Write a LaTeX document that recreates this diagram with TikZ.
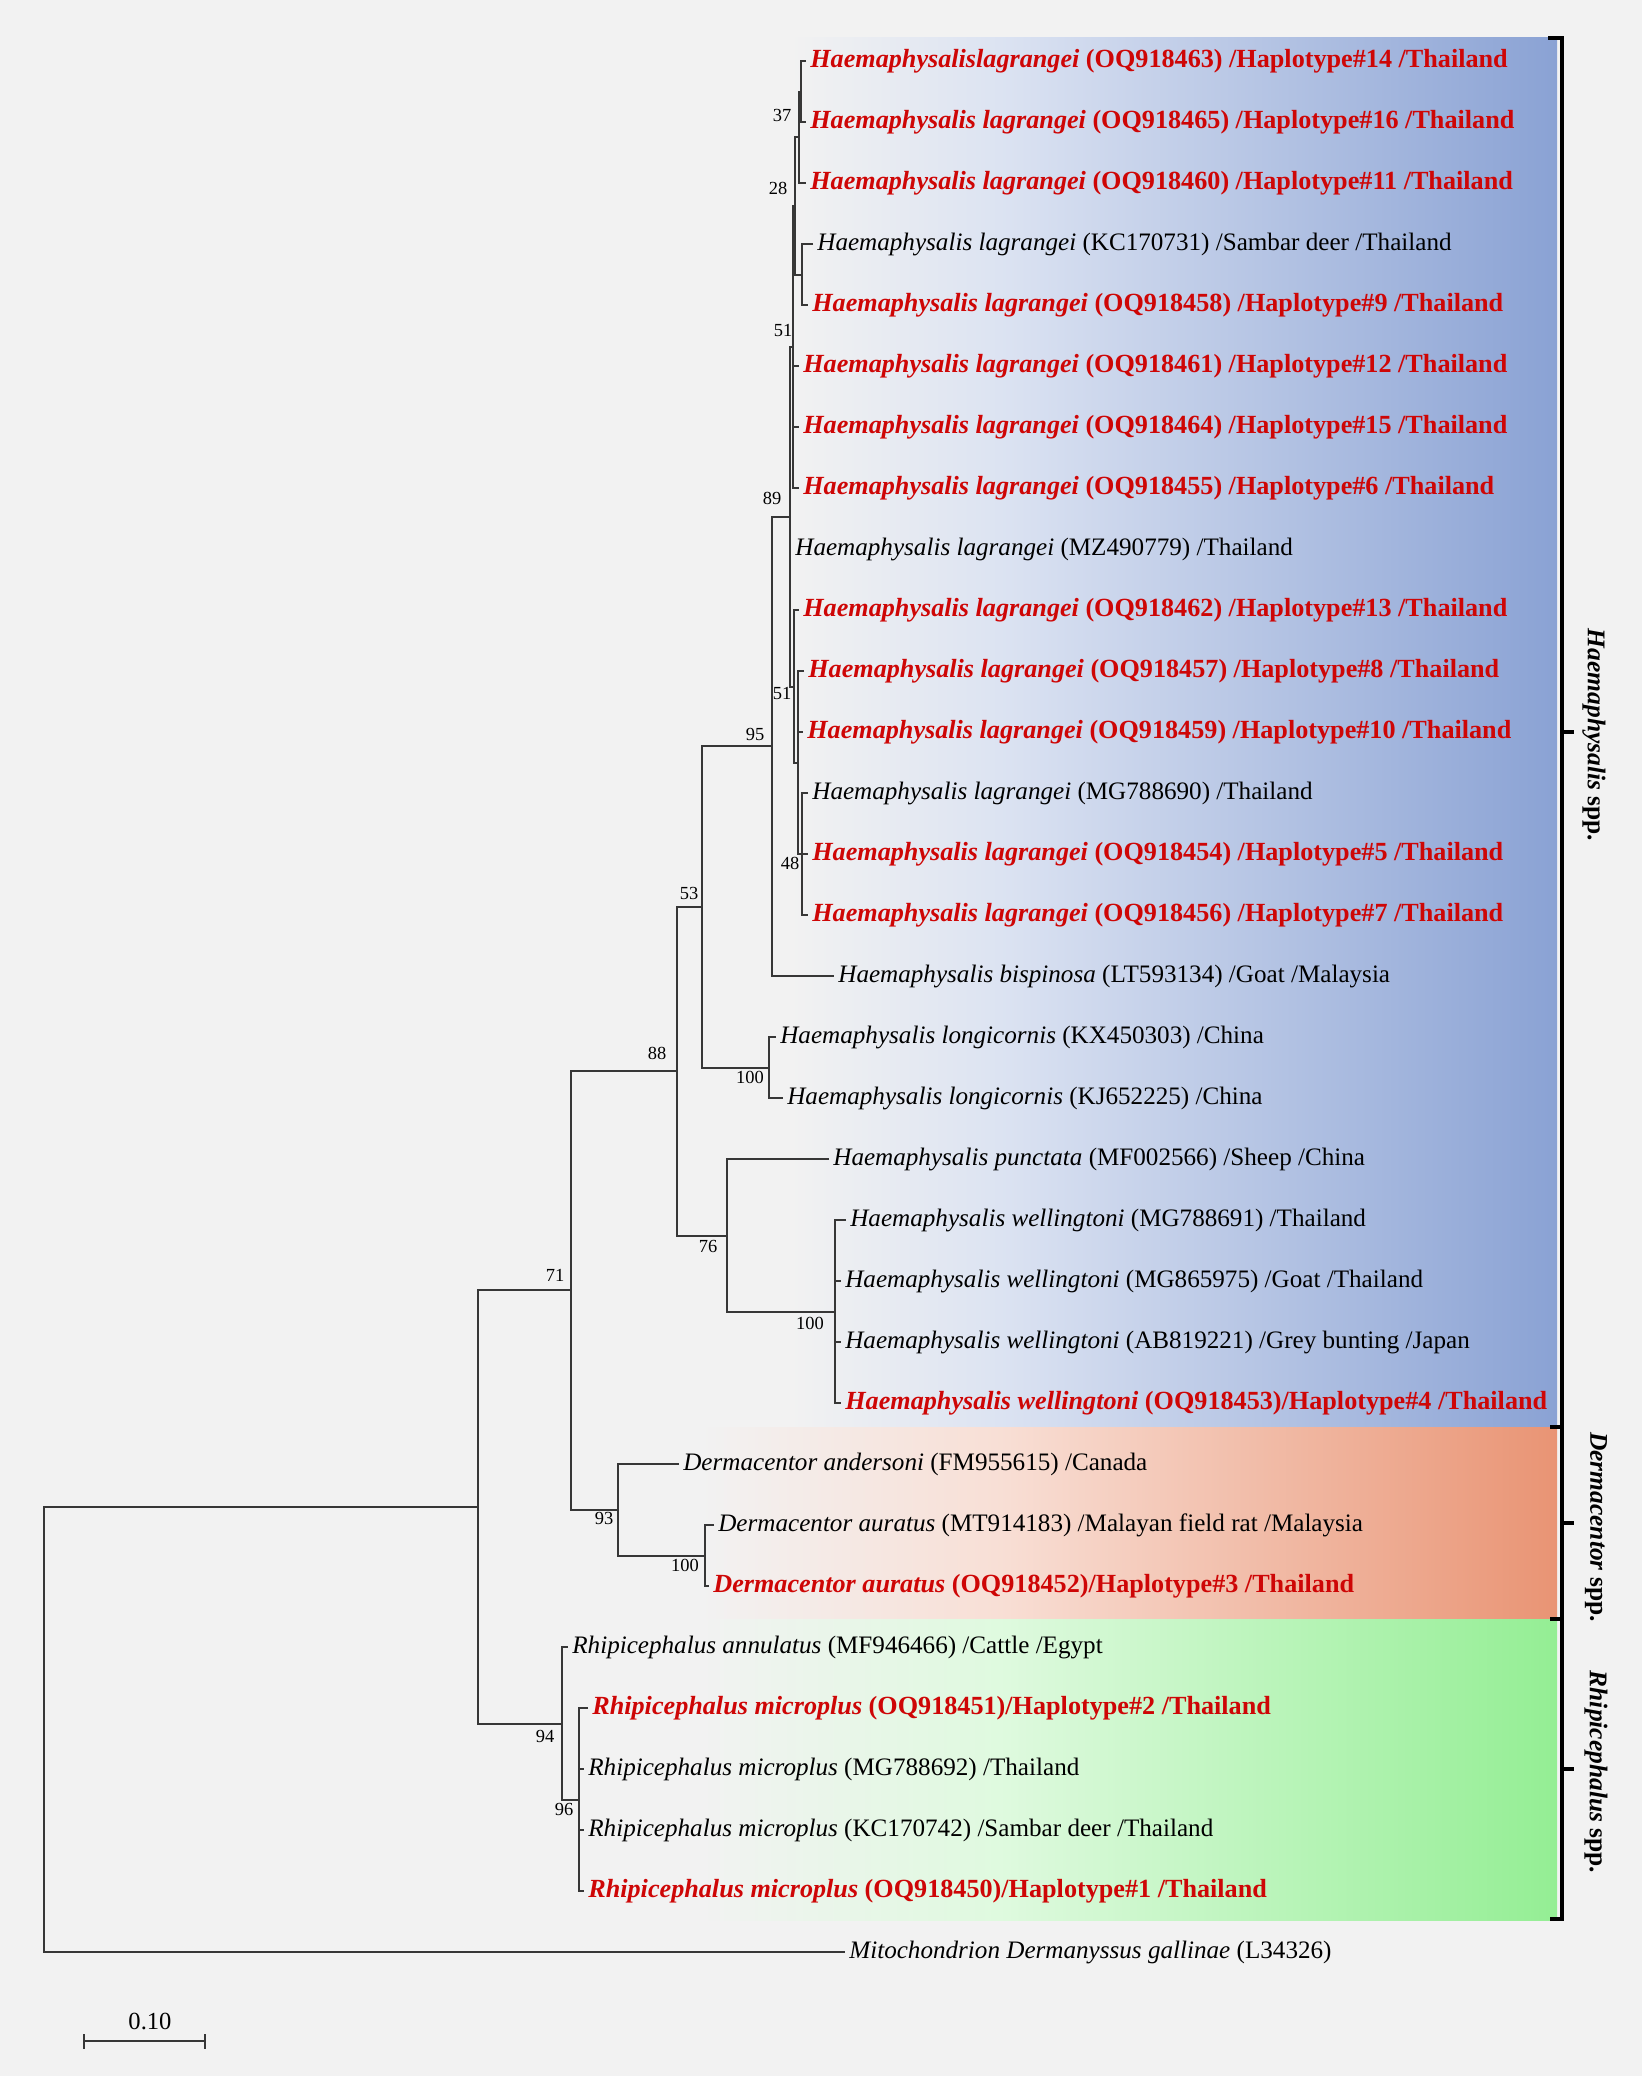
\documentclass[tikz,border=0pt]{standalone}
\usepackage{fontspec}
\setmainfont{Liberation Serif}
\usetikzlibrary{positioning,calc}
\definecolor{hapred}{RGB}{206,6,6}
\definecolor{branch}{RGB}{55,55,55}
\definecolor{paper}{RGB}{242,242,242}
\definecolor{haemablue}{RGB}{138,162,212}
\definecolor{dermaorange}{RGB}{233,148,116}
\definecolor{rhipigreen}{RGB}{148,238,148}
\colorlet{haemalight}{haemablue!30!white}
\colorlet{dermalight}{dermaorange!30!white}
\colorlet{rhipilight}{rhipigreen!30!white}
\tikzset{
  leaf/.style={anchor=west, inner xsep=0.08cm, inner ysep=0pt, font=\fontsize{14.3}{17}\selectfont},
  hap/.style={leaf, text=hapred, font=\fontsize{14.9}{17}\selectfont\bfseries},
  boot/.style={inner sep=0pt, font=\fontsize{10.5}{12}\selectfont},
  br/.style={draw=branch, line width=1pt},
  bracket/.style={draw=black, line width=1.8pt},
  clade/.style={rotate=-90, font=\fontsize{14.5}{17}\selectfont\bfseries}
}
\begin{document}
\begin{tikzpicture}[x=0.02cm, y=-0.02cm]
\useasboundingbox (0,0) rectangle (1642,2076);
\fill[paper] (0,0) rectangle (1642,2076);

\shade[left color=paper, right color=haemalight] (790,37) rectangle (1000,1427);
\shade[left color=haemalight, right color=haemablue] (1000,37) rectangle (1557,1427);
\shade[left color=paper, right color=dermalight] (700,1427) rectangle (1000,1619);
\shade[left color=dermalight, right color=dermaorange] (1000,1427) rectangle (1557,1619);
\shade[left color=paper, right color=rhipilight] (700,1619) rectangle (1000,1920);
\shade[left color=rhipilight, right color=rhipigreen] (1000,1619) rectangle (1557,1920);

\node[hap] (t_0) at (806,61) {\textit{Haemaphysalislagrangei} (OQ918463) /Haplotype\#14 /Thailand};
\node[hap] (t_1) at (806,122) {\textit{Haemaphysalis lagrangei} (OQ918465) /Haplotype\#16 /Thailand};
\node[hap] (t_2) at (806,183) {\textit{Haemaphysalis lagrangei} (OQ918460) /Haplotype\#11 /Thailand};
\node[leaf] (t_3) at (813,244) {\textit{Haemaphysalis lagrangei} (KC170731) /Sambar deer /Thailand};
\node[hap] (t_4) at (808,305) {\textit{Haemaphysalis lagrangei} (OQ918458) /Haplotype\#9 /Thailand};
\node[hap] (t_5) at (799,366) {\textit{Haemaphysalis lagrangei} (OQ918461) /Haplotype\#12 /Thailand};
\node[hap] (t_6) at (799,427) {\textit{Haemaphysalis lagrangei} (OQ918464) /Haplotype\#15 /Thailand};
\node[hap] (t_7) at (799,488) {\textit{Haemaphysalis lagrangei} (OQ918455) /Haplotype\#6 /Thailand};
\node[leaf] (t_8) at (791,549) {\textit{Haemaphysalis lagrangei} (MZ490779) /Thailand};
\node[hap] (t_9) at (799,610) {\textit{Haemaphysalis lagrangei} (OQ918462) /Haplotype\#13 /Thailand};
\node[hap] (t_10) at (804,671) {\textit{Haemaphysalis lagrangei} (OQ918457) /Haplotype\#8 /Thailand};
\node[hap] (t_11) at (803,732) {\textit{Haemaphysalis lagrangei} (OQ918459) /Haplotype\#10 /Thailand};
\node[leaf] (t_12) at (808,793) {\textit{Haemaphysalis lagrangei} (MG788690) /Thailand};
\node[hap] (t_13) at (808,854) {\textit{Haemaphysalis lagrangei} (OQ918454) /Haplotype\#5 /Thailand};
\node[hap] (t_14) at (808,915) {\textit{Haemaphysalis lagrangei} (OQ918456) /Haplotype\#7 /Thailand};
\node[leaf] (t_15) at (834,976) {\textit{Haemaphysalis bispinosa} (LT593134) /Goat /Malaysia};
\node[leaf] (t_16) at (776,1037) {\textit{Haemaphysalis longicornis} (KX450303) /China};
\node[leaf] (t_17) at (783,1098) {\textit{Haemaphysalis longicornis} (KJ652225) /China};
\node[leaf] (t_18) at (829,1159) {\textit{Haemaphysalis punctata} (MF002566) /Sheep /China};
\node[leaf] (t_19) at (846,1220) {\textit{Haemaphysalis wellingtoni} (MG788691) /Thailand};
\node[leaf] (t_20) at (841,1281) {\textit{Haemaphysalis wellingtoni} (MG865975) /Goat /Thailand};
\node[leaf] (t_21) at (841,1342) {\textit{Haemaphysalis wellingtoni} (AB819221) /Grey bunting /Japan};
\node[hap] (t_22) at (841,1403) {\textit{Haemaphysalis wellingtoni} (OQ918453)/Haplotype\#4 /Thailand};
\node[leaf] (t_23) at (679,1464) {\textit{Dermacentor andersoni} (FM955615) /Canada};
\node[leaf] (t_24) at (714,1525) {\textit{Dermacentor auratus} (MT914183) /Malayan field rat /Malaysia};
\node[hap] (t_25) at (709,1586) {\textit{Dermacentor auratus} (OQ918452)/Haplotype\#3 /Thailand};
\node[leaf] (t_26) at (568,1647) {\textit{Rhipicephalus annulatus} (MF946466) /Cattle /Egypt};
\node[hap] (t_27) at (588,1708) {\textit{Rhipicephalus microplus} (OQ918451)/Haplotype\#2 /Thailand};
\node[leaf] (t_28) at (584,1769) {\textit{Rhipicephalus microplus} (MG788692) /Thailand};
\node[leaf] (t_29) at (584,1830) {\textit{Rhipicephalus microplus} (KC170742) /Sambar deer /Thailand};
\node[hap] (t_30) at (584,1891) {\textit{Rhipicephalus microplus} (OQ918450)/Haplotype\#1 /Thailand};
\node[leaf] (t_31) at (845,1952) {\textit{Mitochondrion Dermanyssus gallinae} (L34326)};

\coordinate (n_37) at (801,92);
\coordinate (n_28) at (799,137);
\coordinate (n_kc) at (802,275);
\coordinate (n_top) at (795,206);
\coordinate (n_51a) at (793,347);
\coordinate (n_48) at (802,854);
\coordinate (n_x) at (798,763);
\coordinate (n_51b) at (794,687);
\coordinate (n_89) at (790,517);
\coordinate (n_95) at (772,746);
\coordinate (n_long) at (769,1068);
\coordinate (n_53) at (702,907);
\coordinate (n_wel) at (835,1312);
\coordinate (n_76) at (727,1236);
\coordinate (n_88) at (677,1071);
\coordinate (n_da) at (705,1556);
\coordinate (n_93) at (618,1510);
\coordinate (n_71) at (571,1290);
\coordinate (n_96) at (579,1800);
\coordinate (n_94) at (562,1724);
\coordinate (n_a) at (478,1507);
\coordinate (n_root) at (44,1729);

\draw[br] (t_0.west) -| (n_37) |- (t_1.west);
\draw[br] (n_37) -| (n_28) |- (t_2.west);
\draw[br] (t_3.west) -| (n_kc) |- (t_4.west);
\draw[br] (n_28) -| (n_top) |- (n_kc);
\draw[br] (n_top) -| (n_51a) |- (t_7.west);
\draw[br] (n_51a |- t_5) -- (t_5.west);
\draw[br] (n_51a |- t_6) -- (t_6.west);
\draw[br] (t_12.west) -| (n_48) |- (t_14.west);
\draw[br] (n_48) -- (t_13.west);
\draw[br] (t_10.west) -| (n_x) |- (n_48);
\draw[br] (n_x |- t_11) -- (t_11.west);
\draw[br] (t_9.west) -| (n_51b) |- (n_x);
\draw[br] (n_51a) -| (n_89) |- (n_51b);
\draw[br] (n_89 |- t_8) -- (t_8.west);
\draw[br] (n_89) -| (n_95) |- (t_15.west);
\draw[br] (t_16.west) -| (n_long) |- (t_17.west);
\draw[br] (n_95) -| (n_53) |- (n_long);
\draw[br] (t_19.west) -| (n_wel) |- (t_22.west);
\draw[br] (n_wel |- t_20) -- (t_20.west);
\draw[br] (n_wel |- t_21) -- (t_21.west);
\draw[br] (t_18.west) -| (n_76) |- (n_wel);
\draw[br] (n_53) -| (n_88) |- (n_76);
\draw[br] (t_24.west) -| (n_da) |- (t_25.west);
\draw[br] (t_23.west) -| (n_93) |- (n_da);
\draw[br] (n_88) -| (n_71) |- (n_93);
\draw[br] (t_27.west) -| (n_96) |- (t_30.west);
\draw[br] (n_96 |- t_28) -- (t_28.west);
\draw[br] (n_96 |- t_29) -- (t_29.west);
\draw[br] (t_26.west) -| (n_94) |- (n_96);
\draw[br] (n_71) -| (n_a) |- (n_94);
\draw[br] (n_a) -| (n_root) |- (t_31.west);

\node[boot] (b_37) at (782,115) {37};
\node[boot] (b_28) at (778,188) {28};
\node[boot] (b_51a) at (783,330) {51};
\node[boot] (b_89) at (772,498) {89};
\node[boot] (b_51b) at (782,693) {51};
\node[boot] (b_48) at (790,863) {48};
\node[boot] (b_95) at (755,734) {95};
\node[boot] (b_53) at (689,893) {53};
\node[boot] (b_long) at (750,1077) {100};
\node[boot] (b_88) at (657,1053) {88};
\node[boot] (b_76) at (708,1246) {76};
\node[boot] (b_wel) at (810,1323) {100};
\node[boot] (b_71) at (555,1275) {71};
\node[boot] (b_93) at (604,1518) {93};
\node[boot] (b_da) at (685,1565) {100};
\node[boot] (b_94) at (545,1736) {94};
\node[boot] (b_96) at (564,1809) {96};

\draw[bracket] (1548,38) -| (1562,1427) -- (1550,1427);
\draw[bracket] (1562,732) -- (1574,732);
\draw[bracket] (1562,1427) |- (1550,1619);
\draw[bracket] (1562,1523) -- (1574,1523);
\draw[bracket] (1562,1619) |- (1550,1919);
\draw[bracket] (1562,1769) -- (1574,1769);
\node[clade] (g_haema) at (1594,735) {\textit{Haemaphysalis} spp.};
\node[clade] (g_derma) at (1596,1527) {\textit{Dermacentor} spp.};
\node[clade] (g_rhipi) at (1596,1772) {\textit{Rhipicephalus} spp.};

\coordinate (s_l) at (84,2041);
\coordinate (s_r) at (205,2041);
\draw[br] (s_l) -- (s_r);
\draw[br] ($(s_l)+(0,-7)$) -- ($(s_l)+(0,8)$);
\draw[br] ($(s_r)+(0,-7)$) -- ($(s_r)+(0,8)$);
\node[font=\fontsize{14}{16}\selectfont] (s_lab) at (150,2021) {0.10};
\end{tikzpicture}
\end{document}
